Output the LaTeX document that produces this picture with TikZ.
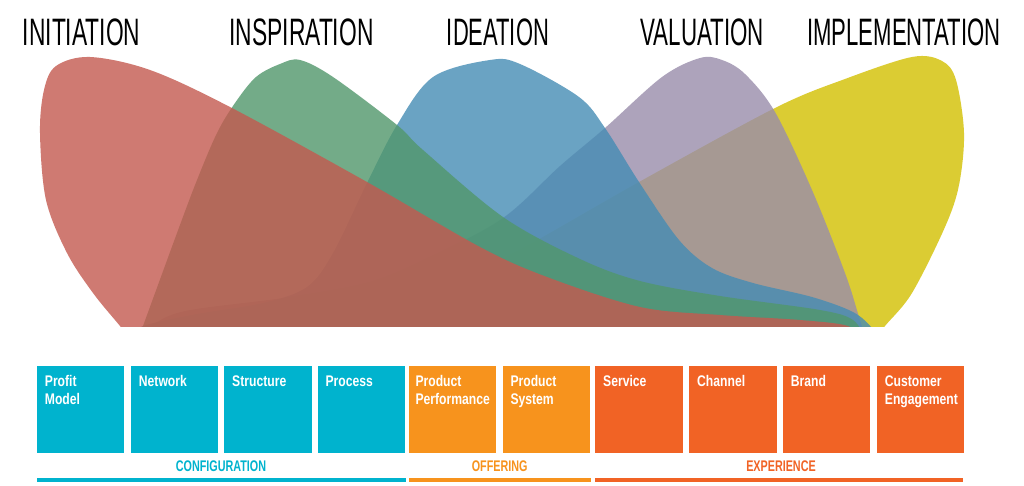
\documentclass[tikz,border=0pt]{standalone}
\usepackage{graphicx}
\usepackage{fontspec}
\setmainfont{Liberation Sans}
\newfontfamily\boxfont[FakeStretch=0.79]{Liberation Sans}
\newfontfamily\labfont[FakeStretch=0.7]{Liberation Sans}
\definecolor{redb}{RGB}{196,89,79}
\definecolor{greenb}{RGB}{81,151,107}
\definecolor{blueb}{RGB}{69,140,180}
\definecolor{purpleb}{RGB}{153,141,171}
\definecolor{yellowb}{RGB}{211,192,1}
\definecolor{cfg}{RGB}{0,179,206}
\definecolor{off}{RGB}{247,147,29}
\definecolor{exp}{RGB}{241,99,37}
\tikzset{
  blob/.style={opacity=0.8},
  ttl/.style={inner sep=0pt, anchor=south west, text=black},
  tile/.style={inner sep=0pt, draw=none, minimum width=87.3pt, minimum height=86.7pt, anchor=north west},
  tiletxt/.style={inner sep=0pt, anchor=base west, text=white, font=\boxfont\bfseries\fontsize{15.4}{18.3}\selectfont},
  grp/.style={inner sep=0pt, anchor=base, font=\labfont\bfseries\fontsize{15.4}{18}\selectfont},
  bar/.style={inner sep=0pt, draw=none, minimum height=4.7pt, anchor=north west}
}
\newcommand\ttlbox[2]{\resizebox{#1pt}{26.7pt}{#2}}
\newcommand\tiletext[1]{\parbox[t]{85pt}{\raggedright #1}}
\begin{document}
\begin{tikzpicture}[x=1pt,y=-1pt]
\useasboundingbox (0,0) rectangle (1024,486);
\fill[white] (0,0) rectangle (1024,486);

\begin{scope}
\clip (0,0) rectangle (1024,326.5);
% Implementation (yellow), bottom layer
\fill[yellowb, blob] plot[smooth, tension=0.55] coordinates {(150,340) (183,323) (290,315) (370,309) (463,277) (530,244) (639,182) (775,108) (845,79) (912,57) (942,61) (956,80) (964,133) (959,185) (945,227) (912,293) (885,326) (875,340)} -- cycle;
% Valuation (purple)
\fill[purpleb, blob] plot[smooth, tension=0.55] coordinates {(140,338) (157,322) (190,310) (290,297) (370,282) (430,257) (503,218) (560,166) (605,128) (662,77) (700,58) (722,60) (745,74) (775,112) (812,190) (845,273) (859,317) (866,340)} -- cycle;
% Ideation (blue)
\fill[blueb, blob] plot[smooth, tension=0.55] coordinates {(130,338) (143,326) (197,314) (263,303) (307,287) (333,253) (367,183) (397,125) (433,77) (490,60) (520,64) (579,97) (605,128) (639,182) (679,240) (712,268) (753,283) (812,297) (853,312) (872,328) (878,340)} -- cycle;
% Inspiration (green)
\fill[greenb, blob] plot[smooth, tension=0.55] coordinates {(136,345) (143,326) (177,233) (197,180) (217,133) (235,103) (256,77) (280,64) (300,60) (333,77) (397,125) (423,150) (503,217) (580,259) (640,281) (720,296) (820,310) (853,320) (866,340)} -- cycle;
% Initiation (red), top layer
\fill[redb, blob] plot[smooth, tension=0.55] coordinates {(131,340) (120,326) (93,293) (67,253) (46,200) (40,133) (44,90) (56,66) (90,57) (150,70) (230,107) (367,182) (480,247) (547,277) (640,307) (720,315) (800,320) (848,326) (862,340)} -- cycle;
\end{scope}

% phase titles
\node[ttl] (tInit) at (22.7,46) {\ttlbox{117.3}{INITIATION}};
\node[ttl] (tInsp) at (229.3,46) {\ttlbox{144}{INSPIRATION}};
\node[ttl] (tIdea) at (446.7,46) {\ttlbox{102}{IDEATION}};
\node[ttl] (tVal) at (640.3,46) {\ttlbox{123.4}{VALUATION}};
\node[ttl] (tImpl) at (807,46) {\ttlbox{193.3}{IMPLEMENTATION}};

% tiles
\node[tile, fill=cfg] (b1) at (36.7,366) {};
\node[tile, fill=cfg] (b2) at (130.7,366) {};
\node[tile, fill=cfg] (b3) at (224,366) {};
\node[tile, fill=cfg] (b4) at (317.3,366) {};
\node[tile, fill=off] (b5) at (408.3,366) {};
\node[tile, fill=off] (b6) at (502.3,366) {};
\node[tile, fill=exp] (b7) at (595,366) {};
\node[tile, fill=exp] (b8) at (689,366) {};
\node[tile, fill=exp] (b9) at (782.7,366) {};
\node[tile, fill=exp] (b10) at (876.7,366) {};

\node[tiletxt] (l1) at ([xshift=8pt]b1.north west |- 0,386) {\tiletext{Profit\\Model}};
\node[tiletxt] (l2) at ([xshift=8pt]b2.north west |- 0,386) {\tiletext{Network}};
\node[tiletxt] (l3) at ([xshift=8pt]b3.north west |- 0,386) {\tiletext{Structure}};
\node[tiletxt] (l4) at ([xshift=8pt]b4.north west |- 0,386) {\tiletext{Process}};
\node[tiletxt] (l5) at ([xshift=7pt]b5.north west |- 0,386) {\tiletext{Product\\Performance}};
\node[tiletxt] (l6) at ([xshift=8pt]b6.north west |- 0,386) {\tiletext{Product\\System}};
\node[tiletxt] (l7) at ([xshift=8pt]b7.north west |- 0,386) {\tiletext{Service}};
\node[tiletxt] (l8) at ([xshift=8pt]b8.north west |- 0,386) {\tiletext{Channel}};
\node[tiletxt] (l9) at ([xshift=8pt]b9.north west |- 0,386) {\tiletext{Brand}};
\node[tiletxt] (l10) at ([xshift=8pt]b10.north west |- 0,386) {\tiletext{Customer\\Engagement}};

% group labels
\node[grp, text=cfg] (gC) at (221,471) {CONFIGURATION};
\node[grp, text=off] (gO) at (499.7,471) {OFFERING};
\node[grp, text=exp] (gE) at (781,471) {EXPERIENCE};

% group bars
\node[bar, fill=cfg, minimum width=369pt] (barC) at (36.7,477.3) {};
\node[bar, fill=off, minimum width=182.4pt] (barO) at (408.3,477.3) {};
\node[bar, fill=exp, minimum width=367.7pt] (barE) at (595,477.3) {};
\end{tikzpicture}
\end{document}
